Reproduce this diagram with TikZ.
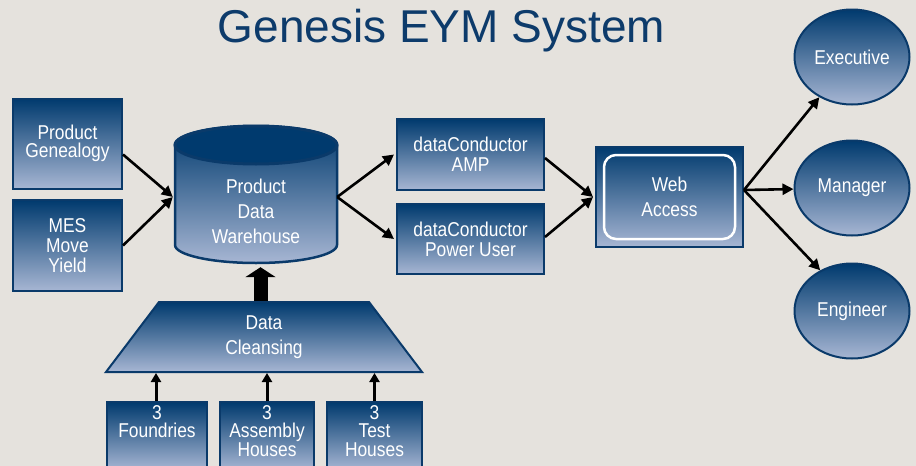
\documentclass[tikz,border=0pt]{standalone}
\usepackage{fontspec}
\setmainfont{Liberation Sans}
\newfontfamily\narrowfont[FakeStretch=0.87]{Liberation Sans}
\usetikzlibrary{arrows.meta,shapes.geometric}
\definecolor{navy}{HTML}{003A6E}
\definecolor{paleblue}{HTML}{A7B6D3}
\definecolor{edgeblue}{HTML}{0A3A6A}
\definecolor{bgcol}{HTML}{E5E2DD}
\definecolor{titleblue}{HTML}{0D3B6B}
\begin{document}
\begin{tikzpicture}[x=1pt,y=1pt,
  blockbox/.style={rectangle, draw=edgeblue, line width=2pt, top color=navy,
    bottom color=paleblue, text=white, align=center, inner sep=0pt,
    font=\narrowfont\fontsize{20}{20}\selectfont},
  wide/.style={font=\narrowfont\fontsize{20}{25}\selectfont},
  tight/.style={font=\narrowfont\fontsize{20}{18.5}\selectfont},
  userbox/.style={blockbox, ellipse, minimum width=115, minimum height=95},
  boxtext/.style={text=white, align=center, inner sep=0pt},
  flow/.style={line width=2.6pt, -{Triangle[length=11pt,width=11pt]}},
  bigarrow/.style={line width=14pt, -{Triangle[length=10pt,width=30pt]}}]
\useasboundingbox (0,0) rectangle (916,-466);
\fill[bgcol] (0,0) rectangle (916,-466);
\node[font=\fontsize{46}{50}\selectfont, text=titleblue, anchor=base] (title) at (441.5,-42) {Genesis EYM System};
% sources on the left
\node[blockbox, tight, minimum width=109, minimum height=90] (pg) at (67.5,-143.5) {Product\\Genealogy};
\node[blockbox, minimum width=109, minimum height=91] (mes) at (67.5,-245.5) {MES\\Move\\Yield};
% warehouse cylinder
\shade[top color=navy, bottom color=paleblue, draw=edgeblue, line width=2.5pt]
  (175,-145) -- (175,-245) arc[start angle=180, end angle=360, x radius=81, y radius=18]
  -- (337,-145) arc[start angle=0, end angle=180, x radius=81, y radius=19] -- cycle;
\filldraw[fill=navy, draw=edgeblue, line width=3pt] (256,-145) ellipse [x radius=81, y radius=19];
\node[minimum width=162, minimum height=137, inner sep=0pt] (pdw) at (256,-194.5) {};
\node[boxtext, wide] (pdwtext) at (256,-211) {Product\\Data\\Warehouse};
% cleansing and feeders
\node[blockbox, wide, trapezium, trapezium left angle=39, trapezium right angle=39,
  trapezium stretches body, minimum width=316, minimum height=70] (dc) at (264,-337) {Data\\Cleansing};
\node[blockbox, minimum width=100, minimum height=68] (fnd) at (157,-436) {};
\node[blockbox, minimum width=94, minimum height=68] (ash) at (267,-436) {};
\node[blockbox, minimum width=95, minimum height=68] (tst) at (374.5,-436) {};
\node[boxtext, tight, anchor=north] (fndtext) at ([yshift=-4pt]fnd.north) {3\\Foundries};
\node[boxtext, tight, anchor=north] (ashtext) at ([yshift=-4pt]ash.north) {3\\Assembly\\Houses};
\node[boxtext, tight, anchor=north] (tsttext) at ([yshift=-4pt]tst.north) {3\\Test\\Houses};
% tools
\node[blockbox, minimum width=147, minimum height=71] (amp) at (470.5,-154.5) {dataConductor\\AMP};
\node[blockbox, minimum width=147, minimum height=70] (pwr) at (470.5,-239) {dataConductor\\Power User};
\node[blockbox, minimum width=147, minimum height=100] (web) at (669.5,-197) {};
\node[boxtext, wide, draw=white, line width=2.5pt, rounded corners=12pt,
  minimum width=131, minimum height=84] (webin) at (web.center) {Web\\Access};
% users
\node[userbox] (exe) at (852,-57) {Executive};
\node[userbox] (mgr) at (852,-188) {Manager};
\node[userbox] (eng) at (852,-311) {Engineer};
% connectors
\coordinate (pdwin) at ([xshift=-2pt,yshift=-2.5pt]pdw.west);
\coordinate (pdwout) at ([yshift=-2.5pt]pdw.east);
\coordinate (webout) at ([yshift=7pt]web.east);
\draw[flow] ([yshift=-11pt]pg.east) -- (pdwin);
\draw[flow] (mes.east) -- (pdwin);
\draw[flow] (pdwout) -- ([xshift=-2pt]amp.west);
\draw[flow] (pdwout) -- ([xshift=-2pt]pwr.west);
\draw[flow] ([yshift=-3.5pt]amp.east) -- ([xshift=-2pt]web.west);
\draw[flow] ([yshift=2pt]pwr.east) -- ([xshift=-2pt]web.west);
\draw[flow] (webout) -- (exe);
\draw[flow] (webout) -- (mgr);
\draw[flow] (webout) -- (eng.128);
\draw[bigarrow, shorten >=4pt] ([xshift=-3.5pt]dc.north) -- ([xshift=-3.5pt]dc.north |- pdw.south);
\draw[line width=3pt, -{Triangle[length=9pt,width=10pt]}] ([xshift=-1pt]fnd.north) -- ([xshift=-1pt]fnd.north |- dc.south);
\draw[line width=3pt, -{Triangle[length=9pt,width=10pt]}] (ash.north) -- (ash.north |- dc.south);
\draw[line width=3pt, -{Triangle[length=9pt,width=10pt]}] (tst.north) -- (tst.north |- dc.south);
\end{tikzpicture}
\end{document}
